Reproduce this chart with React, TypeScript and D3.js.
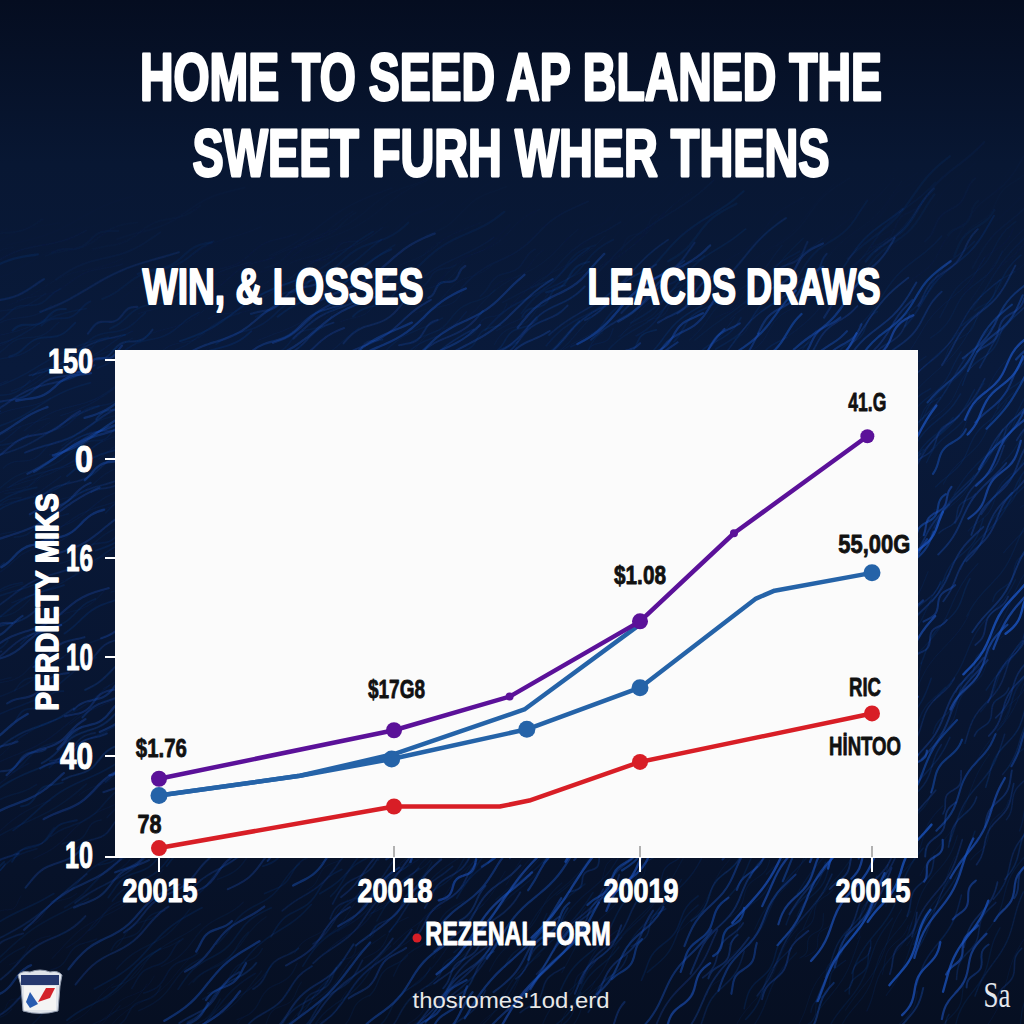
import React, { useMemo } from "react";
import * as d3 from "d3";

const titleLines = ["HOME TO SEED AP BLANED THE", "SWEET FURH WHER THENS"];
const subtitles = ["WIN, & LOSSES", "LEACDS DRAWS"];
const yAxisTitle = "PERDIETY MIKS";
const legendLabel = "REZENAL FORM";
const footerLabel = "thosromes'1od,erd";
const yTickLabels = ["150", "0", "16", "10", "40", "10"];
const yTickPositions = [5, 4, 3, 2, 1, 0];
const yTickWidths = [45, 18, 27, 27, 33, 28];
const xTickLabels = ["20015", "20018", "20019", "20015"];
const xTickPositions = [0, 1, 2, 3];

type P = [number, number];
const purple: P[] = [[0, 0.77], [1.0, 1.26], [1.47, 1.6], [2.0, 2.36], [2.405, 3.25], [2.98, 4.23]];
const purpleDots = [8, 8, 4, 8, 4, 7];
const blueUpper: P[] = [[0, 0.6], [0.6, 0.8], [1, 1.02], [1.53, 1.47], [2.0, 2.33]];
const blueLower: P[] = [[0, 0.6], [0.6, 0.8], [0.99, 0.97], [1.54, 1.27], [2.0, 1.69], [2.5, 2.59], [2.58, 2.67], [3, 2.85]];
const blueDots = [0, 2, 3, 4, 7];
const red: P[] = [[0, 0.07], [1, 0.49], [1.43, 0.49], [1.55, 0.55], [2.0, 0.94], [3, 1.43]];
const redDots = [0, 1, 4, 5];

const pointLabels = [
  { text: "$1.76", x: 0.01, y: 0.99, w: 51 },
  { text: "78", x: -0.04, y: 0.22, w: 24 },
  { text: "$17G8", x: 1.01, y: 1.59, w: 57 },
  { text: "$1.08", x: 2.0, y: 2.74, w: 52 },
  { text: "41.G", x: 2.98, y: 4.48, w: 38 },
  { text: "55,00G", x: 3.01, y: 3.05, w: 72 },
  { text: "RIC", x: 2.97, y: 1.61, w: 32 },
  { text: "HİNTOO", x: 2.97, y: 1.01, w: 72 },
];

const SANS = "'Liberation Sans',sans-serif";

function measure(text: string, font: string) {
  const ctx = document.createElement("canvas").getContext("2d");
  if (!ctx) return text.length * 10;
  ctx.font = font;
  return ctx.measureText(text).width;
}

function Fit(props: { text: string; cx: number; y: number; w: number; size: number; fill: string; stroke?: number; rotate?: number; family?: string; weight?: number }) {
  const { text, cx, y, w, size, fill, stroke = 0, rotate = 0, family = SANS, weight = 700 } = props;
  const natural = measure(text, `${weight} ${size}px ${family}`);
  const sx = w / natural;
  return (
    <text
      transform={`translate(${cx},${y}) rotate(${rotate}) scale(${sx},1)`}
      textAnchor="middle"
      fontFamily={family}
      fontWeight={weight}
      fontSize={size}
      fill={fill}
      stroke={stroke ? fill : "none"}
      strokeWidth={stroke}
      strokeLinejoin="round"
    >
      {text}
    </text>
  );
}

function useStreaks() {
  return useMemo(() => {
    const hash = (n: number) => {
      const s = Math.sin(n * 12.9898) * 43758.5453;
      return s - Math.floor(s);
    };
    const out: { d: string; o: number; w: number }[] = [];
    const line = d3.line().curve(d3.curveBasis);
    for (let i = 0; i < 1500; i++) {
      const x0 = hash(i + 1) * 1140 - 80;
      const y0 = 235 + hash(i + 2.3) * 830;
      const len = 45 + hash(i + 4.7) * 110;
      const ph = hash(i + 7.1) * 6.28;
      const freq = 6 + hash(i + 3.3) * 5;
      const angle = ((22 + 30 * (x0 / 1024) + 14 * ((y0 - 300) / 700)) * Math.PI) / 180;
      const ca = Math.cos(angle);
      const sa = Math.sin(angle);
      const pts: [number, number][] = [];
      for (let t = 0; t <= 1; t += 0.1) {
        const along = t * len;
        const wob = Math.sin(t * freq + ph) * 3.4;
        pts.push([x0 + along * ca + wob * sa, y0 - along * sa + wob * ca]);
      }
      const fade = Math.min(1, Math.max(0.06, (y0 - 235) / 150));
      const side = 0.5 + 0.65 * Math.max(0, x0 / 1024);
      const bright = hash(i + 9.9);
      out.push({
        d: line(pts) || "",
        o: Math.min(0.85, (0.06 + 0.62 * bright * bright * bright) * side * fade + 0.04 * fade),
        w: 0.9 + bright * 1.5,
      });
    }
    return out;
  }, []);
}

export default function App() {
  const x = d3.scaleLinear().domain([0, 1, 2, 3]).range([159, 394, 640, 872]);
  const y = d3.scaleLinear().domain([0, 5]).range([855, 360]);
  const line = d3.line<P>().x((d) => x(d[0])).y((d) => y(d[1]));
  const streaks = useStreaks();
  const series = [
    { data: blueLower, color: "#2563a8", width: 4.5, dots: blueDots.map((i) => ({ p: blueLower[i], r: 8.5 })) },
    { data: blueUpper, color: "#2563a8", width: 4.5, dots: [] as { p: P; r: number }[] },
    { data: red, color: "#d81e26", width: 4.5, dots: redDots.map((i) => ({ p: red[i], r: 8 })) },
    { data: purple, color: "#5b1199", width: 4.5, dots: purple.map((p, i) => ({ p, r: purpleDots[i] })) },
  ];
  return (
    <svg width={1024} height={1024} viewBox="0 0 1024 1024" style={{ position: "absolute", left: 0, top: 0, display: "block" }}>
      <defs>
        <linearGradient id="bg" x1="0" y1="0" x2="0" y2="1">
          <stop offset="0" stopColor="#050d20" />
          <stop offset="0.16" stopColor="#081733" />
          <stop offset="0.36" stopColor="#091a3b" />
          <stop offset="0.7" stopColor="#081530" />
          <stop offset="1" stopColor="#060f22" />
        </linearGradient>
        <filter id="soft" x="-5%" y="-5%" width="110%" height="110%"><feGaussianBlur stdDeviation="0.55" /></filter>
      </defs>
      <rect width={1024} height={1024} fill="url(#bg)" />
      <g filter="url(#soft)">
        {streaks.map((s, i) => (
          <path key={i} d={s.d} fill="none" stroke="#1c55c4" strokeOpacity={s.o} strokeWidth={s.w} strokeLinecap="round" />
        ))}
      </g>

      <Fit text={titleLines[0]} cx={511} y={100} w={745} size={66} fill="#fff" stroke={2.8} />
      <Fit text={titleLines[1]} cx={511} y={176} w={637} size={66} fill="#fff" stroke={2.8} />
      <Fit text={subtitles[0]} cx={283} y={304} w={281} size={50} fill="#fff" stroke={2} />
      <Fit text={subtitles[1]} cx={734} y={304} w={293} size={50} fill="#fff" stroke={2} />

      <rect x={115} y={350} width={803} height={507} fill="#fbfbfb" />

      <g stroke="#fff" strokeWidth={2}>
        <line x1={105} x2={918} y1={857} y2={857} />
        {yTickPositions.slice(0, 5).map((t) => (
          <line key={t} x1={105} x2={116} y1={y(t)} y2={y(t)} />
        ))}
        {xTickPositions.map((t) => (
          <line key={t} x1={x(t)} x2={x(t)} y1={857} y2={872} />
        ))}
      </g>
      <g stroke="#999" strokeWidth={1.5}>
        {xTickPositions.slice(1).map((t) => (
          <line key={t} x1={x(t)} x2={x(t)} y1={846} y2={857} />
        ))}
      </g>

      {yTickPositions.map((t, i) => (
        <Fit key={t} text={yTickLabels[i]} cx={93 - yTickWidths[i] / 2} y={y(t) + 13} w={yTickWidths[i]} size={36} fill="#fff" stroke={1} />
      ))}
      <Fit text={yAxisTitle} cx={58} y={602} w={218} size={31} fill="#fff" stroke={1.6} rotate={-90} />

      {xTickPositions.map((t, i) => (
        <Fit key={t} text={xTickLabels[i]} cx={x(t) + 1} y={902} w={75} size={33} fill="#fff" stroke={1} />
      ))}

      {series.map((s, i) => (
        <g key={i}>
          <path d={line(s.data) || ""} fill="none" stroke={s.color} strokeWidth={s.width} strokeLinejoin="round" />
          {s.dots.map((d, j) => (
            <circle key={j} cx={x(d.p[0])} cy={y(d.p[1])} r={d.r} fill={s.color} />
          ))}
        </g>
      ))}

      {pointLabels.map((l, i) => (
        <Fit key={i} text={l.text} cx={x(l.x)} y={y(l.y)} w={l.w} size={26} fill="#111" stroke={0.8} />
      ))}

      <circle cx={417} cy={938} r={4.5} fill="#d81e26" />
      <Fit text={legendLabel} cx={518} y={945} w={186} size={33} fill="#fff" stroke={1} />
      <Fit text={footerLabel} cx={511} y={1008} w={197} size={22} fill="#e8e8e8" weight={400} />
      <Fit text="Sa" cx={997} y={1007} w={27} size={36} fill="#e4e8ee" weight={400} family="'Liberation Serif',serif" />

      <g>
        <path d="M18 975 Q22 970 30 972 Q40 968 50 972 Q58 970 62 975 L60 986 L58 1011 Q40 1016 23 1011 L21 986 Z" fill="#dfe3ea" stroke="#8b95a8" strokeWidth={1} />
        <rect x={21} y={975} width={38} height={10} fill="#26386e" />
        <rect x={24} y={986} width={32} height={24} fill="#f4f4f4" />
        <path d="M38 1002 L46 988 L55 988 L50 998 Z" fill="#d3232b" />
        <path d="M30 992 L38 1004 L30 1008 L26 1002 Z" fill="#2a5cb0" />
      </g>
    </svg>
  );
}
